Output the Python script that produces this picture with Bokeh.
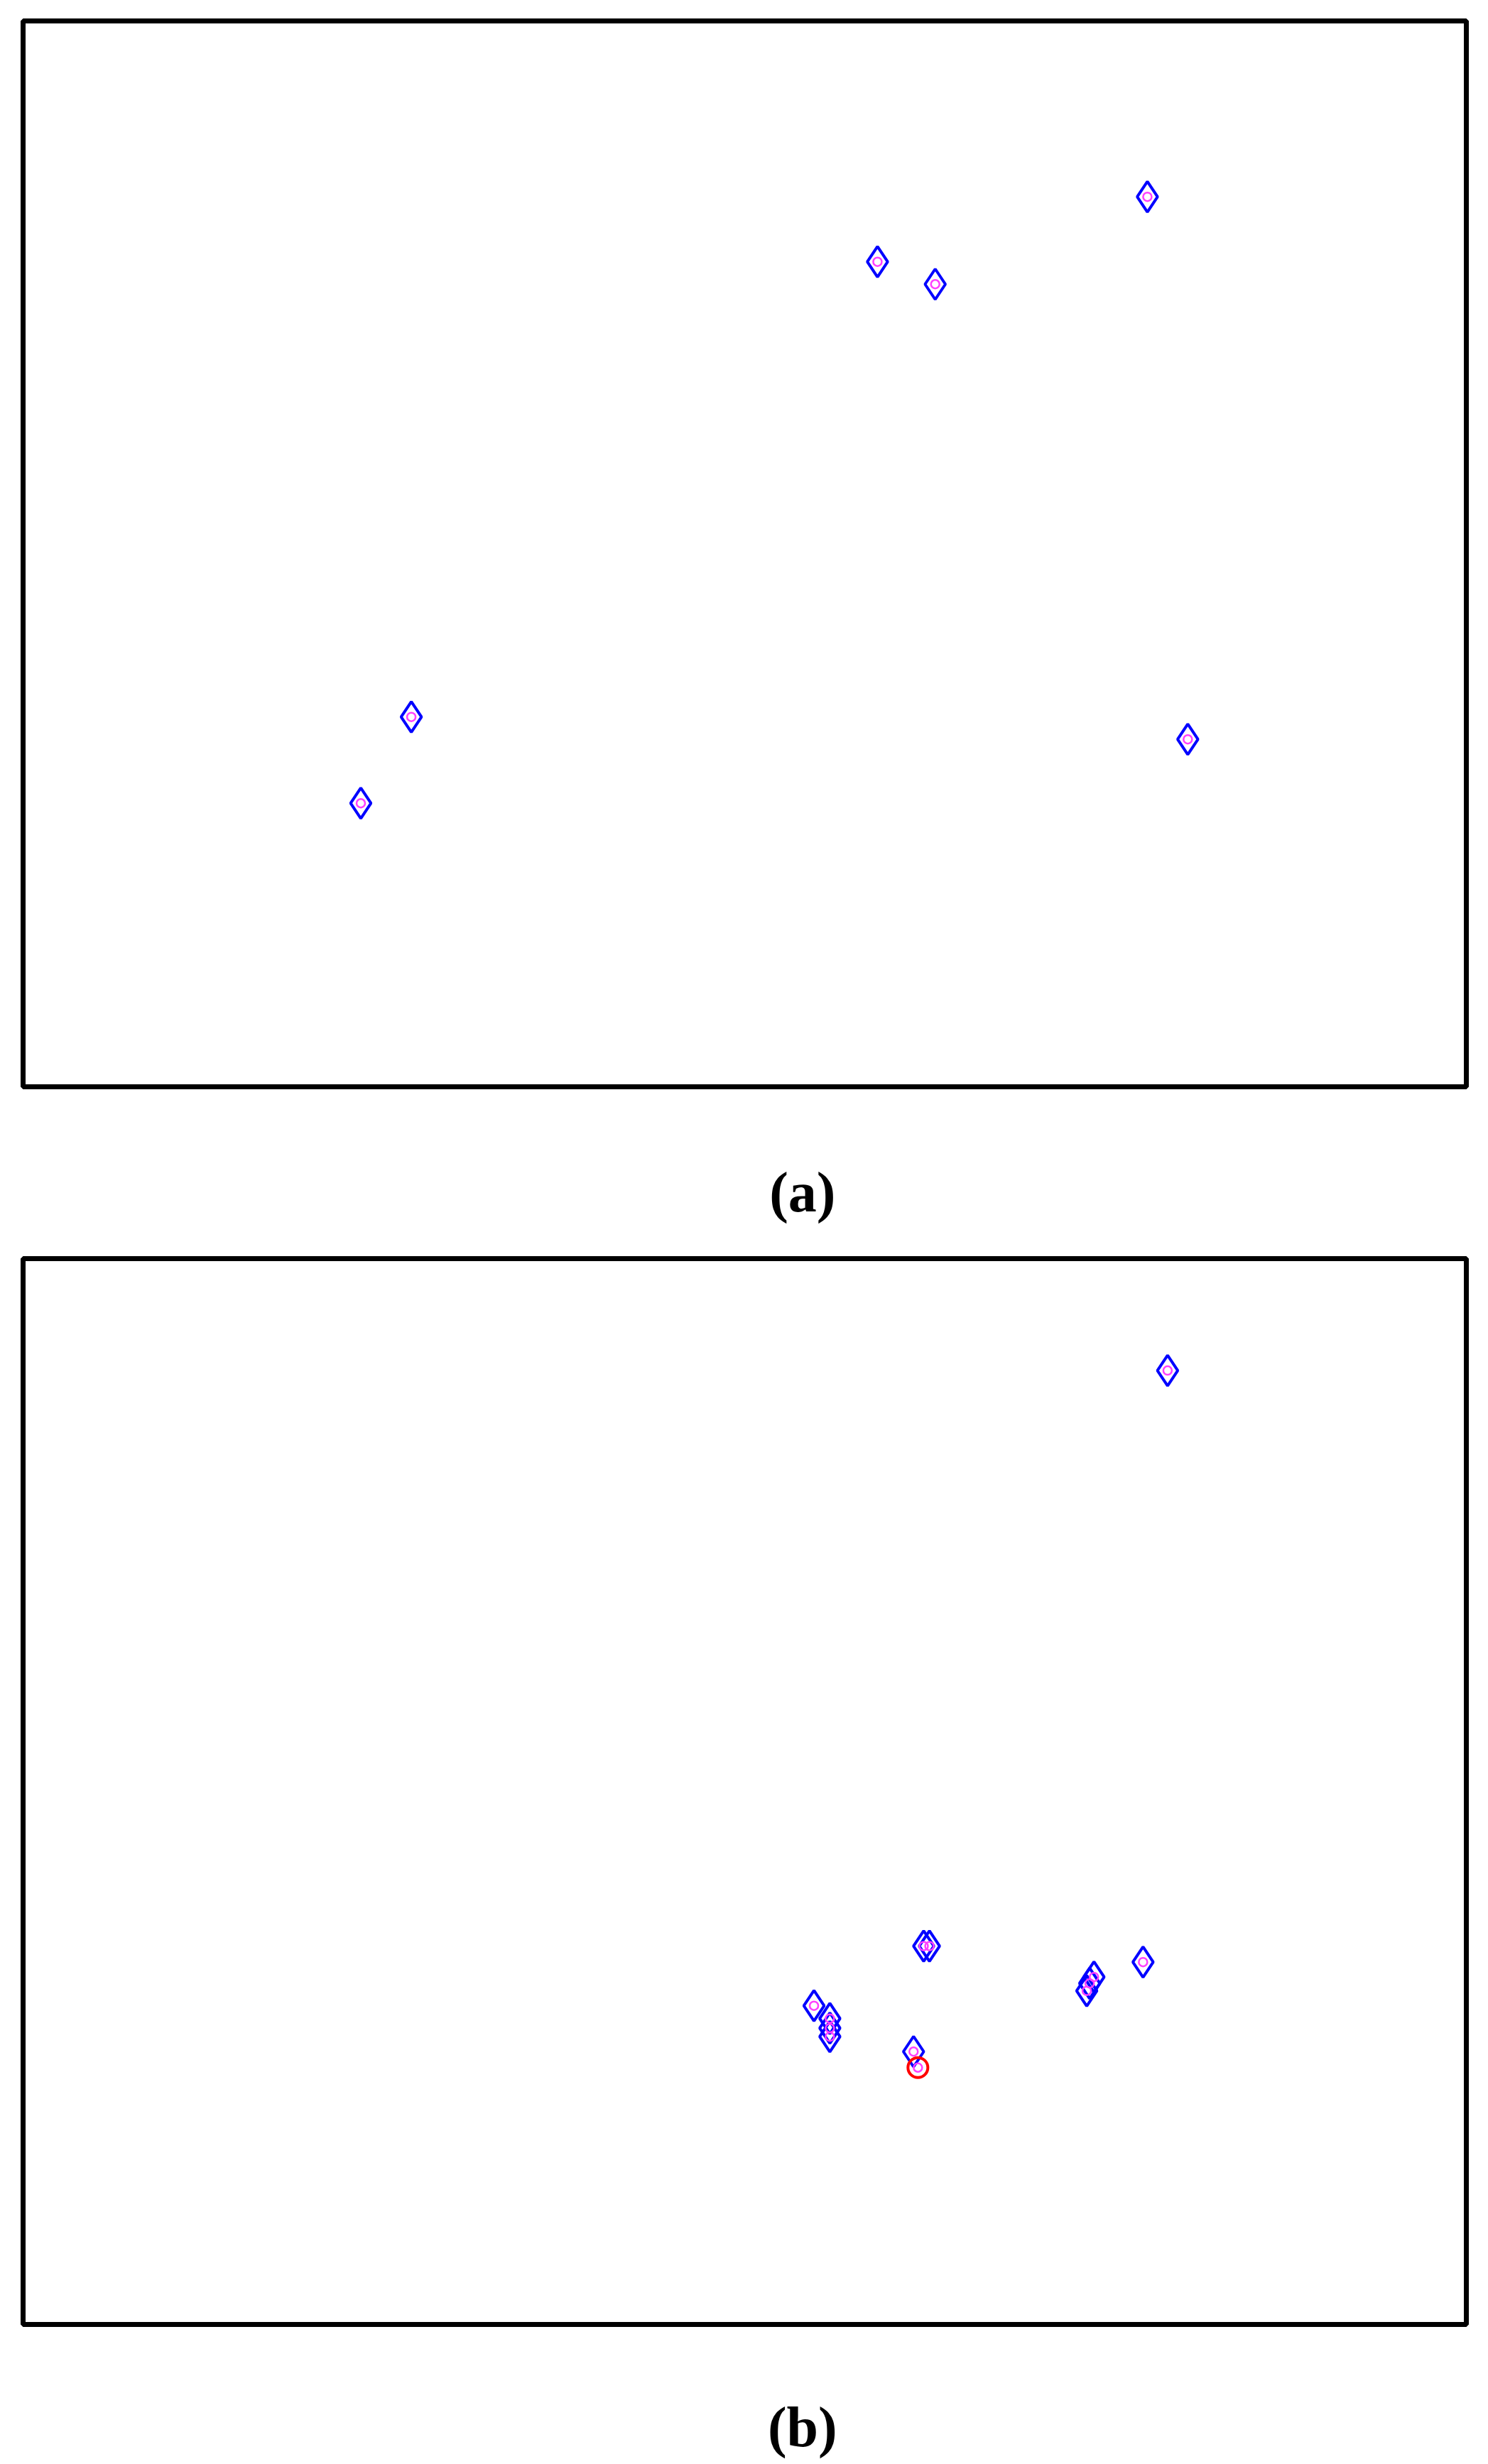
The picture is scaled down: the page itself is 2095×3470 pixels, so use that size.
from bokeh.plotting import figure
from bokeh.models import Range1d, ColumnDataSource
from bokeh.core.properties import value
from bokeh.layouts import column
from bokeh.embed import file_html
from bokeh.resources import INLINE

# Panel (a): class-1 points (blue diamonds), each point also carries a magenta circle
a_x = [59.2, 63.2, 77.9, 26.9, 23.4, 80.7]
a_y = [77.4, 75.3, 83.5, 34.7, 26.6, 32.6]

# Panel (b): class-1 points (blue diamonds)
b_x = [79.3, 62.4, 62.8, 54.8, 55.9, 55.9, 55.9, 61.7, 77.6, 74.2, 73.9, 73.7]
b_y = [89.5, 35.5, 35.5, 29.9, 28.7, 27.8, 27.0, 25.6, 34.0, 32.6, 32.0, 31.3]
# Panel (b): class-2 point (red circle)
b2_x = [62.0]
b2_y = [24.1]

labels = ["(a)", "(b)"]

LEFT = 32
FW = 2032
RIGHT = 2095 - 16 - LEFT - FW


def make_panel(dx, dy, rx, ry, top):
    p = figure(frame_width=FW, frame_height=1501,
               min_border_left=LEFT, min_border_right=RIGHT,
               min_border_top=top, min_border_bottom=10,
               x_range=Range1d(0, 100), y_range=Range1d(0, 100),
               x_axis_location=None, y_axis_location=None,
               output_backend="svg", toolbar_location=None,
               background_fill_color="white", border_fill_color="white")
    p.grid.visible = False
    p.outline_line_color = "black"
    p.outline_line_width = 7
    src = ColumnDataSource(dict(x=dx, y=dy))
    p.scatter("x", "y", source=src, marker="diamond", size=43,
              fill_color=None, line_color="#0000FF", line_width=4)
    p.scatter("x", "y", source=src, marker="circle", size=12,
              fill_color=None, line_color="#FF40FF", line_width=2.5)
    if rx:
        src2 = ColumnDataSource(dict(x=rx, y=ry))
        p.scatter("x", "y", source=src2, marker="circle", size=28,
                  fill_color=None, line_color="#FF0000", line_width=4)
        p.scatter("x", "y", source=src2, marker="circle", size=12,
                  fill_color=None, line_color="#FF40FF", line_width=2.5)
    return p


def make_label(text, h, base):
    p = figure(frame_width=FW, frame_height=h,
               min_border_left=LEFT, min_border_right=RIGHT,
               min_border_top=0, min_border_bottom=0,
               x_range=Range1d(0, 100), y_range=Range1d(h, 0),
               x_axis_location=None, y_axis_location=None,
               output_backend="svg", toolbar_location=None,
               background_fill_color="white", border_fill_color="white")
    p.grid.visible = False
    p.outline_line_color = None
    p.text(x=[54.0], y=[base], text=[text], text_align="center",
           text_baseline="alphabetic", text_font=value("Liberation Serif"),
           text_font_style="bold", text_font_size="80px", text_color="black")
    return p


pa = make_panel(a_x, a_y, [], [], 29)
la = make_label(labels[0], 211, 138)
pb = make_panel(b_x, b_y, b2_x, b2_y, 21)
lb = make_label(labels[1], 186, 134)

layout = column(pa, la, pb, lb, spacing=0)
open("out.html", "w").write(file_html(layout, INLINE))
